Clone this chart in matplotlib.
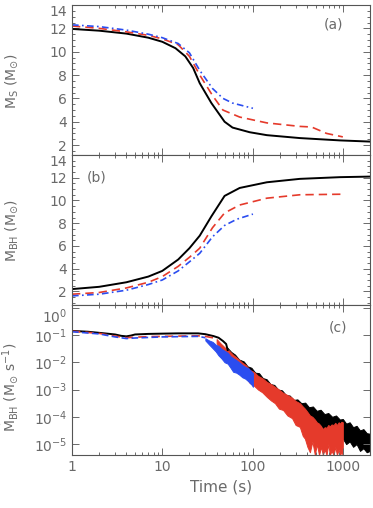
import numpy as np
import matplotlib
matplotlib.use("Agg")
import matplotlib.pyplot as plt
from matplotlib.ticker import MultipleLocator, LogLocator, NullFormatter

plt.rcParams['font.family'] = ['DejaVu Sans']
plt.rcParams['mathtext.default'] = 'regular'

GRAY = '#6a6a6a'
RED = '#e53a2b'
BLUE = '#2b4df0'

# ---- panel (a): stellar mass M_S
t_a_black = [1, 2, 4, 7, 10, 14, 18, 22, 26, 35, 49, 60, 93, 144, 334, 930, 2000]
ms_black = [11.95, 11.8, 11.55, 11.2, 10.85, 10.3, 9.6, 8.6, 7.3, 5.6, 4.0, 3.5, 3.1, 2.85, 2.6, 2.4, 2.3]
t_a_red = [1, 2, 4, 7, 10, 15, 20, 26, 36, 47, 72, 144, 334, 450, 660, 1000]
ms_red = [12.2, 12.0, 11.7, 11.4, 11.1, 10.6, 9.6, 8.0, 6.25, 5.0, 4.4, 3.9, 3.6, 3.55, 3.0, 2.7]
t_a_blue = [1, 2, 4, 7, 10, 15, 20, 26, 36, 47, 60, 101]
ms_blue = [12.3, 12.15, 11.85, 11.5, 11.2, 10.7, 9.9, 8.4, 6.85, 6.0, 5.6, 5.15]

# ---- panel (b): black hole mass M_BH
t_b_black = [1, 2, 4, 7, 10, 15, 20, 26, 35, 49, 72, 144, 334, 930, 2000]
mbh_black = [2.2, 2.4, 2.8, 3.3, 3.8, 4.8, 5.8, 6.9, 8.6, 10.4, 11.1, 11.6, 11.9, 12.05, 12.1]
t_b_red = [1, 2, 4, 7, 10, 15, 20, 26, 36, 49, 72, 144, 334, 1000]
mbh_red = [1.75, 1.9, 2.3, 2.8, 3.3, 4.2, 5.0, 5.8, 7.6, 8.9, 9.6, 10.2, 10.5, 10.55]
t_b_blue = [1, 2, 4, 7, 10, 15, 20, 26, 36, 49, 67, 101]
mbh_blue = [1.6, 1.75, 2.1, 2.6, 3.0, 3.8, 4.6, 5.35, 6.8, 7.8, 8.35, 8.8]

# ---- panel (c): accretion rate, log10 values
t_c_black = [1, 1.5, 2, 3, 3.5, 4, 4.5, 5, 7, 10, 15, 25, 30, 37, 42, 47, 51, 53]
lg_black = [-0.85, -0.88, -0.92, -0.98, -1.03, -1.05, -1.02, -0.98, -0.96, -0.95,
            -0.94, -0.94, -0.97, -1.04, -1.1, -1.22, -1.33, -1.55]
t_c_red = [1, 2, 3, 4, 5, 7, 10, 15, 25, 30, 36, 40]
lg_red = [-0.86, -0.94, -1.04, -1.1, -1.08, -1.06, -1.05, -1.04, -1.03, -1.05, -1.1, -1.15]
t_c_blue = [1, 2, 3, 4, 5, 7, 10, 15, 25, 30]
lg_blue = [-0.88, -0.96, -1.07, -1.13, -1.11, -1.09, -1.07, -1.06, -1.05, -1.1]

# noisy tails, upper / lower envelopes (log10)
t_nb = [52, 58, 64, 71, 80, 88, 97, 107, 118, 130, 143, 158, 174, 192, 212, 234,
        258, 285, 314, 347, 383, 422, 466, 514, 567, 626, 690, 762, 840, 927,
        1000, 1090, 1190, 1300, 1420, 1550, 1690, 1840, 2000]
nb_hi = [-1.45, -1.62, -1.72, -1.90, -1.97, -2.15, -2.20, -2.38, -2.40, -2.58,
         -2.62, -2.80, -2.83, -3.00, -3.03, -3.20, -3.22, -3.38, -3.36, -3.50,
         -3.48, -3.65, -3.62, -3.78, -3.74, -3.90, -3.86, -4.00, -3.95, -4.10,
         -4.08, -4.25, -4.20, -4.38, -4.33, -4.50, -4.45, -4.60, -4.62]
nb_lo = [-1.60, -1.90, -2.00, -2.20, -2.30, -2.45, -2.55, -2.70, -2.75, -2.95,
         -3.00, -3.20, -3.20, -3.40, -3.45, -3.60, -3.65, -3.80, -3.85, -4.00,
         -4.00, -4.20, -4.15, -4.35, -4.30, -4.50, -4.45, -4.65, -4.60, -4.85,
         -4.80, -5.00, -4.90, -5.10, -5.00, -5.25, -5.15, -5.30, -5.25]

t_nr = [40, 44, 49, 54, 61, 68, 76, 84, 93, 103, 115, 128, 144, 160, 177, 196,
        218, 243, 274, 300, 334, 360, 380, 405, 432, 460, 490, 515, 545, 575,
        600, 630, 660, 690, 718, 750, 790, 825, 860, 900, 930, 965, 1000]
nr_hi = [-1.15, -1.30, -1.45, -1.55, -1.73, -1.85, -2.00, -2.10, -2.28, -2.35,
         -2.50, -2.58, -2.72, -2.80, -2.90, -3.00, -3.12, -3.20, -3.30, -3.42,
         -3.50, -3.62, -3.70, -3.82, -3.95, -4.00, -4.10, -4.20, -4.25, -4.35,
         -4.45, -4.38, -4.40, -4.30, -4.35, -4.28, -4.30, -4.22, -4.30, -4.20,
         -4.25, -4.18, -4.20]
nr_lo = [-1.30, -1.50, -1.70, -1.85, -2.17, -2.25, -2.45, -2.55, -2.76, -2.85,
         -3.00, -3.10, -3.27, -3.40, -3.50, -3.70, -3.75, -3.95, -4.05, -4.30,
         -4.37, -4.70, -4.80, -5.10, -5.30, -4.90, -5.40, -5.00, -5.40, -5.10,
         -5.40, -5.20, -5.40, -5.00, -5.40, -5.25, -5.40, -5.10, -5.40, -5.20,
         -5.40, -5.30, -5.40]

t_nbl = [30, 33, 36, 39, 42, 45, 49, 53, 57, 61, 66, 71, 77, 83, 90, 98, 101]
nbl_hi = [-1.12, -1.20, -1.25, -1.35, -1.40, -1.50, -1.58, -1.65, -1.78, -1.85,
          -1.92, -2.00, -2.10, -2.17, -2.22, -2.35, -2.40]
nbl_lo = [-1.20, -1.35, -1.48, -1.60, -1.75, -1.85, -2.00, -2.05, -2.20, -2.35,
          -2.38, -2.45, -2.55, -2.60, -2.70, -2.83, -2.90]

fig = plt.figure(figsize=(3.73, 5.08), dpi=100)
L, W = 72 / 373, 298 / 373
H = 150 / 508
ax_a = fig.add_axes([L, (508 - 155) / 508, W, H])
ax_b = fig.add_axes([L, (508 - 305) / 508, W, H])
ax_c = fig.add_axes([L, (508 - 455) / 508, W, H])

dash_r = (0, (5, 3))
dash_b = (0, (4, 2, 1, 2))

ax_a.plot(t_a_black, ms_black, color='black', lw=1.4)
ax_a.plot(t_a_red, ms_red, color=RED, lw=1.2, linestyle=dash_r)
ax_a.plot(t_a_blue, ms_blue, color=BLUE, lw=1.2, linestyle=dash_b)

ax_b.plot(t_b_black, mbh_black, color='black', lw=1.4)
ax_b.plot(t_b_red, mbh_red, color=RED, lw=1.2, linestyle=dash_r)
ax_b.plot(t_b_blue, mbh_blue, color=BLUE, lw=1.2, linestyle=dash_b)

p = lambda v: 10 ** np.array(v)
ax_c.fill_between(t_nb, p(nb_lo), p(nb_hi), color='black', lw=0.7, edgecolor='black')
ax_c.plot(t_c_black, p(lg_black), color='black', lw=1.4)
ax_c.fill_between(t_nr, p(nr_lo), p(nr_hi), color=RED, lw=0.7, edgecolor=RED)
ax_c.plot(t_c_red, p(lg_red), color=RED, lw=1.2, linestyle=dash_r)
ax_c.fill_between(t_nbl, p(nbl_lo), p(nbl_hi), color=BLUE, lw=0.7, edgecolor=BLUE)
ax_c.plot(t_c_blue, p(lg_blue), color=BLUE, lw=1.2, linestyle=(0, (4, 2)))

for ax in (ax_a, ax_b, ax_c):
    ax.set_xscale('log')
    ax.set_xlim(1, 2000)
    ax.tick_params(which='both', direction='in', top=True, right=True,
                   colors=GRAY, labelcolor=GRAY, labelsize=10, width=0.7)
    ax.tick_params(which='major', length=5)
    ax.tick_params(which='minor', length=2.5)
    for s in ax.spines.values():
        s.set_color('#555555')
        s.set_linewidth(0.8)

for ax in (ax_a, ax_b):
    ax.set_yticks([2, 4, 6, 8, 10, 12, 14])
    ax.yaxis.set_minor_locator(MultipleLocator(0.5))
    ax.xaxis.set_major_formatter(NullFormatter())
    ax.xaxis.set_minor_formatter(NullFormatter())
ax_a.set_ylim(1.15, 14)
ax_b.set_ylim(0.8, 14)

ax_c.set_yscale('log')
ax_c.set_ylim(10 ** -5.4, 10 ** 0.1)
ax_c.set_yticks([10.0 ** k for k in range(-5, 1)])
ax_c.set_yticklabels([r'$10^{%d}$' % k for k in range(-5, 1)])
ax_c.yaxis.set_minor_locator(LogLocator(subs=np.arange(2, 10)))
ax_c.yaxis.set_minor_formatter(NullFormatter())
ax_c.set_xticks([1, 10, 100, 1000])
ax_c.set_xticklabels(['1', '10', '100', '1000'])
ax_c.xaxis.set_minor_formatter(NullFormatter())
ax_c.set_xlabel('Time (s)', color=GRAY, fontsize=11)

# push the topmost y label of each panel below its tick, as in the original
for ax in (ax_a, ax_b, ax_c):
    ax.get_yticklabels()[-1].set_verticalalignment('top')

ax_a.set_ylabel(r'$M_{S}$ ($M_{\odot}$)', color=GRAY, fontsize=10)
ax_b.set_ylabel(r'$M_{BH}$ ($M_{\odot}$)', color=GRAY, fontsize=10)
ax_c.set_ylabel(r'$\dot{M}_{BH}$ ($M_{\odot}$ s$^{-1}$)', color=GRAY, fontsize=10)
ax_a.yaxis.set_label_coords(-0.175, 0.49)
ax_b.yaxis.set_label_coords(-0.175, 0.5)
ax_c.yaxis.set_label_coords(-0.175, 0.45)

ax_a.text(0.876, 0.867, '(a)', transform=ax_a.transAxes, color=GRAY,
          fontsize=10, ha='center', va='center')
ax_b.text(0.084, 0.853, '(b)', transform=ax_b.transAxes, color=GRAY,
          fontsize=10, ha='center', va='center')
ax_c.text(0.893, 0.847, '(c)', transform=ax_c.transAxes, color=GRAY,
          fontsize=10, ha='center', va='center')

fig.savefig('out.png', dpi=100)
